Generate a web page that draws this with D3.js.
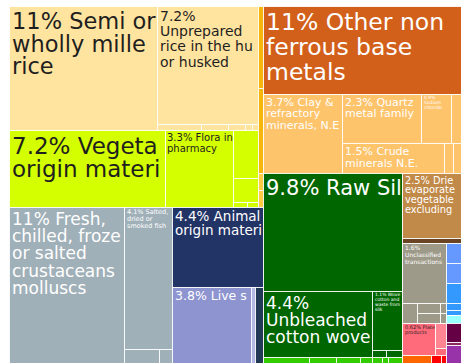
<!DOCTYPE html>
<html><head><meta charset="utf-8">
<script src="https://cdn.jsdelivr.net/npm/d3@7"></script>
<style>html,body{margin:0;padding:0;background:#fff;overflow:hidden}svg{display:block;font-family:"DejaVu Sans",sans-serif}</style>
</head><body><svg id="chart" width="461" height="363"></svg>
<script>
// ---- DATA ----
// leaf products (share of exports, %)
const names = [
 "Semi or wholly milled rice","Unprepared rice in the husk or husked","Rice product a","Rice product b","Rice product c","Rice product d","Rice product e",
 "Vegetable origin material","Flora in pharmacy","Vegetable item a","Vegetable item b","Vegetable item c","Vegetable item d",
 "Gold item a","Gold item b","Gold item c","Gold item d",
 "Fresh, chilled, frozen or salted crustaceans molluscs","Salted, dried or smoked fish","Fish item a","Fish item b",
 "Animal origin material","Live swine","Animal item a","Animal item b",
 "Other non ferrous base metals",
 "Clay & refractory minerals, N.E.","Quartz metal family","Sodium chloride","Mineral item a","Crude minerals N.E.","Mineral item b","Mineral item c",
 "Raw Silk","Unbleached cotton woven","Woven cotton and waste from silk","Textile item a","Textile item b",
 "Green item a","Green item b","Green item c","Green item d","Green item e","Green item f","Green item g",
 "Dried and evaporated vegetables, excluding","Brown item a",
 "Unclassified transactions","Unclassified a","Unclassified b","Unclassified c","Unclassified d","Unclassified e",
 "Blue item a","Blue item b","Blue item c","Blue item d","Blue item e","Blue item f",
 "Plated products","Pink item a","Pink item b",
 "Orange item","Red item","Red item b",
 "Maroon item","Maroon item b","Purple item"
];
const values = [
 11.37,7.39,0.164,0.104,0.063,0.026,0.022,
 7.44,3.24,0.74,0.37,0.043,0.034,
 0.254,0.263,0.053,0.053,
 11.12,4.22,0.30,0.113,
 4.51,3.72,0.188,0.377,
 10.80,
 3.87,2.40,0.91,0.30,1.90,0.167,0.149,
 10.16,4.46,1.10,0.061,0.069,
 0.171,0.100,0.086,0.045,0.037,0.022,0.052,
 2.38,0.183,
 1.64,0.186,0.143,0.143,0.037,0.037,
 0.186,0.186,0.186,0.065,0.046,0.074,
 0.654,0.170,0.048,
 0.144,0.050,0.025,
 0.177,0.028,0.167
];
const groups = [
 "rice","rice","rice","rice","rice","rice","rice",
 "veg","veg","veg","veg","veg","veg",
 "gold","gold","gold2","gold2",
 "fish","fish","fish","fish",
 "animal","swine","swine2","slate",
 "metal",
 "mineral","mineral","mineral","mineral","mineral","mineral","mineral",
 "textile","textile","textile","textile","textile",
 "green","green","green","green","green","green","green",
 "dried","brown",
 "unclass","unclass","unclass","unclass","unclass","unclass",
 "blue","blue","blue2","blue2","blue2","cyan",
 "pink","pink2","pink",
 "orange","red","red",
 "maroon","maroon2","purple"
];
// label lines shown on the cells (index -> lines)
const labelLines = {
 0:["11% Semi or","wholly milled","rice"],
 1:["7.2%","Unprepared","rice in the husk","or husked"],
 7:["7.2% Vegetable","origin material"],
 8:["3.3% Flora in","pharmacy"],
 17:["11% Fresh,","chilled, frozen","or salted","crustaceans","molluscs"],
 18:["4.1% Salted,","dried or","smoked fish"],
 21:["4.4% Animal","origin material"],
 22:["3.8% Live swine"],
 25:["11% Other non","ferrous base","metals"],
 26:["3.7% Clay &","refractory","minerals, N.E."],
 27:["2.3% Quartz","metal family"],
 28:["0.9%","Sodium","chloride"],
 30:["1.5% Crude","minerals N.E."],
 33:["9.8% Raw Silk"],
 34:["4.4%","Unbleached","cotton woven"],
 35:["1.1% Woven","cotton and","waste from","silk"],
 45:["2.5% Dried and","evaporated","vegetables,","excluding"],
 47:["1.6%","Unclassified","transactions"],
 59:["0.62% Plated","products"]
};
// nesting of the tiles: "h" splits side by side, "v" stacks
const nesting =
 ["h",
  ["v",
   ["h",
    ["v",
     ["h",0,["v",1,["h",2,3,4,5,6]]],
     ["h",7,8,["v",9,10,["h",11,12]]]],
    ["v",13,14,15,16]],
   ["h",
    ["h",17,["v",18,["h",19,20]]],
    ["v",21,["h",22,23,24]]]],
  ["v",
   25,
   ["h",26,["v",["h",27,28,29],["h",30,31,32]]],
   ["h",
    ["v",33,["h",34,["v",35,["h",36,37]]],["h",38,39,40,41,42,43,44]],
    ["v",45,46,
     ["h",["v",47,["h",48,["v",49,50],["v",51,52]]],["v",53,54,55,56,57,58]],
     ["h",["v",["h",59,["v",60,61]],["h",62,63,64]],["v",65,66,67]]]]]];

// ---- STYLES ----
const groupColors = {
 rice:"#FFE4A0", veg:"#D4FF00", gold:"#F6B60C", gold2:"#FFCB45",
 fish:"#A0B0B8", animal:"#223366", swine:"#8D94D0", swine2:"#B3B8E6", slate:"#223A55",
 metal:"#D2601A", mineral:"#FEC46C", textile:"#006600", green:"#33CC00",
 dried:"#C28A48", brown:"#6B4423", unclass:"#9E9A8A",
 blue:"#6699FF", blue2:"#3399FF", cyan:"#99FFFF",
 pink:"#FF6B7B", pink2:"#FF8592", orange:"#FF6600", red:"#FF0000",
 maroon:"#660044", maroon2:"#8A2A5E", purple:"#9933AA"
};
const darkText = new Set(["rice","veg","pink"]);
const labelStyle = {
 0:{fs:22.5,lh:22.5}, 1:{fs:14,lh:15.3}, 7:{fs:23,lh:23}, 8:{fs:10,lh:11,px:2},
 17:{fs:17,lh:17.3}, 18:{fs:6.5,lh:7}, 21:{fs:13.5,lh:13.5}, 22:{fs:12.5,lh:13},
 25:{fs:23.5,lh:25}, 26:{fs:11,lh:11.5}, 27:{fs:11,lh:11.5}, 28:{fs:4.5,lh:4.6},
 30:{fs:11,lh:12}, 33:{fs:21,lh:21}, 34:{fs:17,lh:17}, 35:{fs:4.5,lh:5},
 45:{fs:9.8,lh:9.8}, 47:{fs:6,lh:7}, 59:{fs:5,lh:5}
};
const W = 461, H = 363, ML = 9, MT = 6;

// ---- BUILD ----
function build(n){
  if (typeof n === "number") return {id:n, name:names[n], value:values[n], group:groups[n]};
  return {dir:n[0], children:n.slice(1).map(build)};
}
const root = d3.hierarchy(build(nesting)).sum(d => d.value || 0);
const tile = (node,x0,y0,x1,y1) =>
  (node.data.dir === "h" ? d3.treemapDice : d3.treemapSlice)(node,x0,y0,x1,y1);
d3.treemap().tile(tile).size([W-ML, H-MT]).round(true)(root);

const svg = d3.select("#chart");
const defs = svg.append("defs");
const g = svg.append("g").attr("transform",`translate(${ML},${MT})`);
const leaves = root.leaves();

g.selectAll("rect.cell").data(leaves).join("rect").attr("class","cell")
  .attr("x",d=>d.x0+0.5).attr("y",d=>d.y0+0.5)
  .attr("width",d=>Math.max(0,d.x1-d.x0)).attr("height",d=>Math.max(0,d.y1-d.y0))
  .attr("fill",d=>groupColors[d.data.group])
  .attr("stroke","#fff").attr("stroke-width",1).attr("stroke-opacity",0.85);

const tg = svg.append("g");
leaves.filter(d=>labelLines[d.data.id]).forEach(d=>{
  const id = d.data.id, st = labelStyle[id], lines = labelLines[id];
  const bx0 = d.x0+ML, by0 = d.y0+MT;
  const bx1 = Math.min(d.x1+ML, W), by1 = Math.min(d.y1+MT, H);
  const limit = bx1 >= W ? W - 2.5 : bx1 + 0.5;
  const cid = "clip"+id;
  defs.append("clipPath").attr("id",cid).append("rect")
    .attr("x",bx0).attr("y",by0).attr("width",bx1-bx0).attr("height",by1-by0);
  const t = tg.append("text").attr("clip-path","url(#"+cid+")")
    .attr("font-size",st.fs)
    .attr("fill",darkText.has(d.data.group)?"#1e1e1e":"#fff");
  const tx = bx0 + (st.px ?? 3);
  lines.forEach((ln,i)=>{
    const y = by0 + 1 + 0.98*st.fs + i*st.lh;
    if (y > by1 + 1) return;
    const span = t.append("tspan").attr("x",tx).attr("y",y).text(ln);
    let s = ln;
    // text is cut at the cell's right edge, as in the original
    while (s.length > 0 && tx + span.node().getComputedTextLength() > limit) {
      s = s.slice(0,-1);
      span.text(s);
    }
  });
});
</script></body></html>
